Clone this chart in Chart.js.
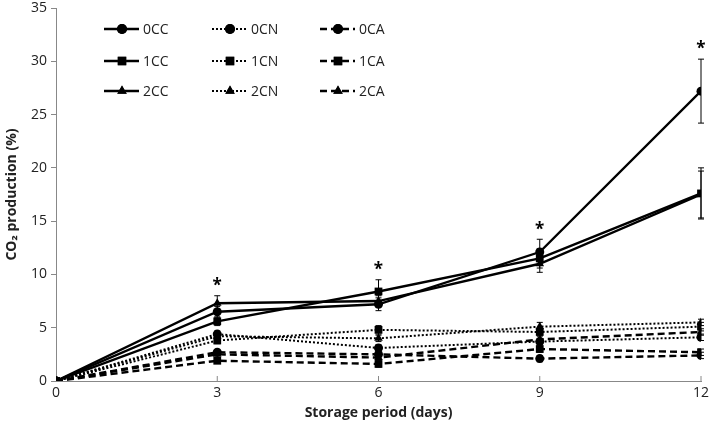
<!DOCTYPE html>
<html>
<head>
<meta charset="utf-8">
<script src="https://cdn.jsdelivr.net/npm/chart.js@4"></script>
<style>
  html, body { margin: 0; padding: 0; background: #fff; }
  #wrap { width: 709px; height: 431px; }
</style>
</head>
<body>
<div id="wrap"><canvas id="myChart" width="709" height="431"></canvas></div>
<script>
// storage days
var days = [0, 3, 6, 9, 12];
var yTicks = [0, 5, 10, 15, 20, 25, 30, 35];

// CO2 production (%)
var v0CC = [0, 6.5, 7.2, 12.1, 27.2];
var v1CC = [0, 5.6, 8.4, 11.5, 17.6];
var v2CC = [0, 7.3, 7.5, 11.0, 17.5];
var v0CN = [0, 4.4, 3.1, 3.7, 4.1];
var v1CN = [0, 3.8, 4.8, 4.6, 5.1];
var v2CN = [0, 4.2, 4.0, 5.1, 5.5];
var v0CA = [0, 2.7, 2.5, 2.1, 2.4];
var v1CA = [0, 1.9, 1.6, 3.0, 2.7];
var v2CA = [0, 2.5, 2.2, 3.9, 4.6];

// standard error (+/-)
var e0CC = [0, 0.5, 0.6, 1.2, 3.0];
var e1CC = [0, 0.4, 1.1, 0.9, 2.4];
var e2CC = [0, 0.7, 0.5, 0.8, 2.2];
var e0CN = [0, 0.3, 0.3, 0.3, 0.3];
var e1CN = [0, 0.3, 0.4, 0.3, 0.4];
var e2CN = [0, 0.3, 0.3, 0.4, 0.3];
var e0CA = [0, 0.2, 0.2, 0.3, 0.3];
var e1CA = [0, 0.2, 0.3, 0.3, 0.3];
var e2CA = [0, 0.3, 0.2, 0.3, 0.3];

// significance marks
var starDays = [3, 6, 9, 12];

var font = "'Open Sans', 'DejaVu Sans', sans-serif";

function mk(label, vals, errs, shape, dash, width) {
    return {
        label: label,
        data: days.map(function (d, i) { return { x: d, y: vals[i] }; }),
        err: errs,
        borderColor: '#000',
        backgroundColor: '#000',
        borderWidth: width,
        borderDash: dash,
        pointStyle: shape,
        pointRadius: shape === 'rect' ? 5.5 : (shape === 'triangle' ? 5 : 4.5),
        pointBorderWidth: 0,
        pointBackgroundColor: '#000',
        tension: 0
    };
}

var solid = [];
var dotted = [2, 2];
var dashed = [7, 4];

var datasets = [
    mk('0CC', v0CC, e0CC, 'circle', solid, 2.4),
    mk('1CC', v1CC, e1CC, 'rect', solid, 2.4),
    mk('2CC', v2CC, e2CC, 'triangle', solid, 2.4),
    mk('0CN', v0CN, e0CN, 'circle', dotted, 2),
    mk('1CN', v1CN, e1CN, 'rect', dotted, 2),
    mk('2CN', v2CN, e2CN, 'triangle', dotted, 2),
    mk('0CA', v0CA, e0CA, 'circle', dashed, 2.4),
    mk('1CA', v1CA, e1CA, 'rect', dashed, 2.4),
    mk('2CA', v2CA, e2CA, 'triangle', dashed, 2.4)
];

// error bars, inward x ticks, asterisks, 3x3 legend
var extras = {
    id: 'extras',
    beforeDatasetsDraw: function (chart) {
        var ctx = chart.ctx;
        var xs = chart.scales.x, ys = chart.scales.y;
        ctx.save();
        ctx.strokeStyle = '#000';
        ctx.lineWidth = 1;
        chart.data.datasets.forEach(function (ds) {
            ds.data.forEach(function (p, i) {
                var e = ds.err[i];
                if (!e) return;
                var px = xs.getPixelForValue(p.x);
                var top = ys.getPixelForValue(p.y + e);
                var bot = ys.getPixelForValue(p.y - e);
                ctx.beginPath();
                ctx.moveTo(px, top); ctx.lineTo(px, bot);
                ctx.moveTo(px - 3, top); ctx.lineTo(px + 3, top);
                ctx.moveTo(px - 3, bot); ctx.lineTo(px + 3, bot);
                ctx.stroke();
            });
        });
        // x ticks pointing up
        ctx.strokeStyle = '#888';
        days.forEach(function (d) {
            if (d === 0) return;
            var px = xs.getPixelForValue(d);
            ctx.beginPath();
            ctx.moveTo(px, ys.bottom); ctx.lineTo(px, ys.bottom - 5);
            ctx.stroke();
        });
        ctx.restore();
    },
    afterDatasetsDraw: function (chart) {
        var ctx = chart.ctx;
        var xs = chart.scales.x, ys = chart.scales.y;
        ctx.save();
        ctx.fillStyle = '#000';
        ctx.font = 'bold 17px ' + font;
        ctx.textAlign = 'center';
        ctx.textBaseline = 'bottom';
        starDays.forEach(function (d) {
            var i = days.indexOf(d);
            var top = 0;
            chart.data.datasets.forEach(function (ds) {
                top = Math.max(top, ds.data[i].y + ds.err[i]);
            });
            ctx.fillText('*', xs.getPixelForValue(d), ys.getPixelForValue(top) - 1);
        });

        // legend grid
        var colX = [104, 212, 320];
        var rowY = [29, 61, 91];
        ctx.font = '14px ' + font;
        ctx.textAlign = 'left';
        ctx.textBaseline = 'middle';
        chart.data.datasets.forEach(function (ds, k) {
            var c = Math.floor(k / 3), r = k % 3;
            var x0 = colX[c], y0 = rowY[r];
            ctx.strokeStyle = '#000';
            ctx.lineWidth = ds.borderWidth;
            ctx.setLineDash(ds.borderDash);
            ctx.beginPath();
            ctx.moveTo(x0, y0); ctx.lineTo(x0 + 35, y0);
            ctx.stroke();
            ctx.setLineDash([]);
            Chart.helpers.drawPoint(ctx, {
                pointStyle: ds.pointStyle,
                radius: ds.pointRadius + 0.5,
                borderWidth: 0
            }, x0 + 18, y0);
            ctx.fillStyle = '#000';
            ctx.fill();
            ctx.fillStyle = '#222';
            ctx.fillText(ds.label, x0 + 39, y0 + 1);
        });
        ctx.restore();
    }
};

var ctx = document.getElementById('myChart').getContext('2d');
var myChart = new Chart(ctx, {
    type: 'line',
    data: { datasets: datasets },
    options: {
        responsive: false,
        animation: false,
        layout: { padding: { top: 8, right: 8, left: 0, bottom: 10 } },
        plugins: {
            legend: { display: false },
            tooltip: { enabled: false }
        },
        scales: {
            x: {
                type: 'linear',
                min: 0, max: 12,
                afterBuildTicks: function (axis) {
                    axis.ticks = days.map(function (d) { return { value: d }; });
                },
                afterFit: function (axis) {
                    axis.height = 40;
                    axis.paddingRight = 0;
                    axis.paddingLeft = 0;
                },
                grid: { display: false, drawTicks: false },
                border: { display: true, color: '#888', width: 1 },
                ticks: { color: '#222', font: { family: font, size: 14 }, padding: 4, maxRotation: 0 },
                title: {
                    display: true,
                    text: 'Storage period (days)',
                    color: '#222',
                    font: { family: font, size: 14, weight: 'bold' },
                    padding: { top: 2, bottom: 0 }
                }
            },
            y: {
                min: 0, max: 35,
                afterBuildTicks: function (axis) {
                    axis.ticks = yTicks.map(function (v) { return { value: v }; });
                },
                afterFit: function (axis) {
                    axis.width = 56;
                    axis.paddingTop = 0;
                },
                grid: { display: true, drawOnChartArea: false, drawTicks: true, tickLength: 5, color: '#888' },
                border: { display: true, color: '#888', width: 1 },
                ticks: { color: '#222', font: { family: font, size: 14 }, padding: 4 },
                title: {
                    display: true,
                    text: 'CO\u2082 production (%)',
                    color: '#222',
                    font: { family: font, size: 14, weight: 'bold' },
                    padding: { top: 4, bottom: 2 }
                }
            }
        }
    },
    plugins: [extras]
});
</script>
</body>
</html>
